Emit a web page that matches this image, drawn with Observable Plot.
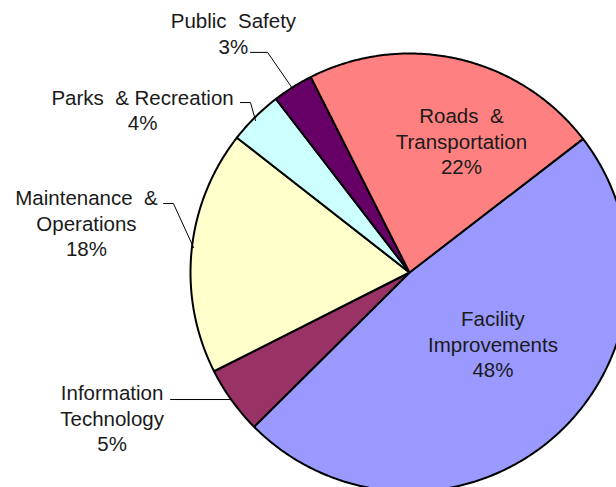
<!DOCTYPE html>
<html>
<head>
<meta charset="utf-8">
<script src="https://cdn.jsdelivr.net/npm/d3@7"></script>
<script src="https://cdn.jsdelivr.net/npm/@observablehq/plot@0.6"></script>
<style>
  html, body { margin: 0; padding: 0; background: #fff; overflow: hidden; }
  #chart svg { display: block; }
</style>
</head>
<body>
<div id="chart"></div>
<script>
// ---- data ----
const categories = ["Facility Improvements", "Information Technology", "Maintenance & Operations", "Parks & Recreation", "Public Safety", "Roads & Transportation"];
const shares = [48, 5, 18, 4, 3, 22];
const colors = ["#9999FF", "#993366", "#FFFFCC", "#CCFFFF", "#660066", "#FF8080"];
const labelTexts = ["Facility\nImprovements\n48%", "Information\nTechnology\n5%", "Maintenance  &\nOperations\n18%", "Parks  & Recreation\n4%", "Public  Safety\n3%", "Roads  &\nTransportation\n22%"];
// label positions in pie-radius units (centre = 0,0)
const labelX = [0.381, -1.358, -1.475, -1.219, -0.804, 0.237];
const labelY = [-0.324, -0.662, 0.228, 0.744, 1.094, 0.603];
// leader lines (pie-radius units)
const leaders = [
  {name: "Public Safety", pts: [[-0.726, 1.005], [-0.648, 1.005], [-0.534, 0.840]]},
  {name: "Parks & Recreation", pts: [[-0.772, 0.776], [-0.726, 0.776], [-0.703, 0.694]]},
  {name: "Maintenance & Operations", pts: [[-1.123, 0.315], [-1.078, 0.315], [-0.986, 0.114]]},
  {name: "Information Technology", pts: [[-1.091, -0.580], [-0.817, -0.580]]}
];
const startAngleDeg = 52.4;

// ---- build slice polygons ----
const total = d3.sum(shares);
const slices = [];
let a = startAngleDeg;
categories.forEach((name, i) => {
  const sweep = shares[i] / total * 360;
  const a0 = a, a1 = a + sweep;
  const pts = [{name, x: 0, y: 0}];
  const n = Math.max(2, Math.ceil(sweep / 0.5));
  for (let k = 0; k <= n; k++) {
    const t = (a0 + (a1 - a0) * k / n) * Math.PI / 180;
    pts.push({name, x: Math.sin(t), y: Math.cos(t)});
  }
  pts.push({name, x: 0, y: 0});
  slices.push(...pts);
  a = a1;
});
const labels = categories.map((name, i) => ({name, text: labelTexts[i], x: labelX[i], y: labelY[i]}));
const leaderPts = leaders.flatMap(l => l.pts.map(([x, y]) => ({name: l.name, x, y})));

const chart = Plot.plot({
  width: 616,
  height: 487,
  margin: 0,
  style: {background: "#fff", fontFamily: "'Liberation Sans', Arial, sans-serif"},
  x: {axis: null, domain: [-1, 1], range: [190, 628]},
  y: {axis: null, domain: [-1, 1], range: [491, 53]},
  color: {domain: categories, range: colors},
  marks: [
    Plot.line(slices, {x: "x", y: "y", z: "name", fill: "name", stroke: "#000", strokeWidth: 2, strokeLinejoin: "round", curve: "linear"}),
    Plot.line(leaderPts, {x: "x", y: "y", z: "name", stroke: "#000", strokeWidth: 1}),
    Plot.text(labels, {x: "x", y: "y", text: "text", fontSize: 20.5, lineHeight: 1.24, fill: "#1a1a1a", textAnchor: "middle", lineAnchor: "middle"})
  ]
});
document.getElementById("chart").appendChild(chart);
</script>
</body>
</html>
